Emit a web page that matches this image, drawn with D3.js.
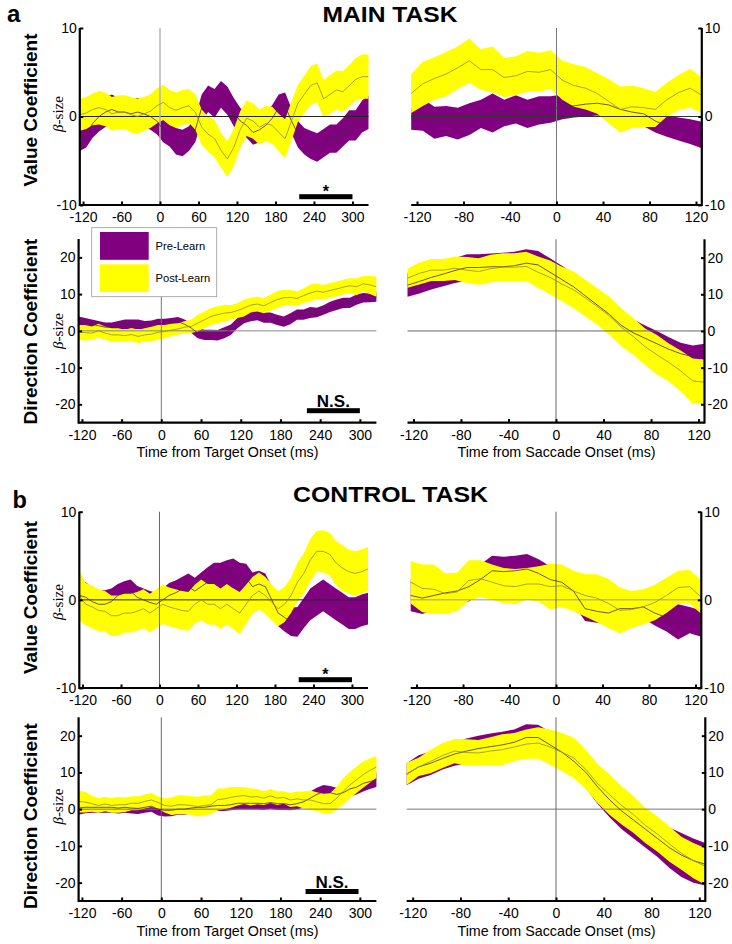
<!DOCTYPE html>
<html><head><meta charset="utf-8">
<script src="https://cdn.jsdelivr.net/npm/d3@7"></script>
<style>
body{margin:0;background:#fff}
svg{display:block}
text{font-family:"Liberation Sans",Arial,Helvetica,sans-serif;fill:#000}
</style>
</head><body>
<svg id="c" width="732" height="944"></svg>
<script>
// ---------------- DATA ----------------
const timesTarget = [-125,-115,-105,-95,-85,-75,-65,-55,-45,-35,-25,-15,-5,5,15,25,35,45,55,65,75,85,95,105,115,125,135,145,155,165,175,185,195,205,215,225,235,245,255,265,275,285,295,305,315,325];
const timesSaccade = [-125,-115,-105,-95,-85,-75,-65,-55,-45,-35,-25,-15,-5,5,15,25,35,45,55,65,75,85,95,105,115,125];
const xTicksTarget = [-120,-60,0,60,120,180,240,300];
const xTicksSaccade = [-120,-80,-40,0,40,80,120];
const yTicksValue = [10,0,-10];
const yTicksDirection = [20,10,0,-10,-20];
const seriesNames = ["Pre-Learn","Post-Learn"];
const taskTitles = ["MAIN TASK","CONTROL TASK"];
const sectionLetters = ["a","b"];
const rowTitles = ["Value Coefficient","Direction Coefficient"];
const xTitles = ["Time from Target Onset (ms)","Time from Saccade Onset (ms)"];
const sigStarts = [217,220,217,218];
const sigEnds = [300,300,300,298];
const sigLabels = ["*","N.S.","*","N.S."];

// Main task, value coefficient, target aligned
const mainValTgtPreMean = [-2.5,-2.0,-0.8,0.0,0.5,0.8,0.5,0.5,0.3,0.5,0.3,0.0,-0.5,-1.5,-2.0,-2.8,-3.0,-2.5,-1.5,1.0,2.0,1.5,2.5,1.8,0.5,-0.5,-1.0,-1.8,-1.5,-1.0,-0.2,1.0,1.2,-0.5,-2.0,-2.8,-3.2,-3.5,-3.0,-2.5,-2.5,-1.8,-1.0,-1.0,0.0,0.5];
const mainValTgtPreHw = [1.4,1.5,1.6,1.7,1.7,1.7,1.6,1.6,1.6,1.6,1.5,1.5,1.5,1.4,1.4,1.5,1.5,1.4,1.4,1.5,1.5,1.6,1.5,1.6,1.6,1.5,1.4,1.4,1.4,1.4,1.5,1.5,1.5,1.4,1.5,1.5,1.6,1.6,1.6,1.6,1.6,1.6,1.7,1.7,1.8,1.9];
const mainValTgtPostMean = [0.2,0.4,0.8,1.0,0.8,0.3,0.5,0.5,0.2,0.0,0.3,0.6,1.2,1.6,1.0,0.7,1.0,1.2,0.5,-1.2,-2.0,-2.5,-3.8,-4.8,-3.5,-1.5,-0.2,-0.5,-1.2,-0.8,-1.0,-1.8,-2.5,-0.5,1.5,2.5,3.5,3.8,2.0,2.5,3.0,2.8,3.5,4.2,4.5,4.5];
const mainValTgtPostHw = [1.8,1.8,1.8,1.9,1.9,1.9,1.9,1.9,2.0,2.0,1.9,1.9,2.0,2.0,2.0,2.0,2.0,1.9,2.0,2.0,2.0,2.1,2.0,2.0,2.1,2.1,2.0,2.0,2.0,2.0,2.1,2.1,2.2,2.2,2.1,2.1,2.2,2.2,2.1,2.2,2.2,2.3,2.3,2.4,2.5,2.5];

// Main task, value coefficient, saccade aligned
const mainValSacPreMean = [-0.3,0.2,-0.7,-0.5,-0.8,-0.3,0.3,0.4,0.4,0.8,0.3,0.7,0.8,1.1,1.2,1.4,1.5,1.3,0.8,0.5,0.3,-0.5,-1.1,-1.4,-1.7,-2.1];
const mainValSacPreHw = [1.2,1.8,1.8,1.7,1.8,1.8,1.6,2.2,1.5,1.6,1.6,1.6,1.5,1.4,1.3,1.4,1.4,1.4,1.4,1.4,1.4,1.3,1.2,1.3,1.4,1.5];
const mainValSacPostMean = [2.6,3.7,4.3,4.8,5.5,6.3,5.3,5.3,4.4,4.6,5.1,5.0,5.3,4.1,3.5,3.2,2.6,1.7,0.8,1.1,1.0,0.8,1.9,2.7,3.2,2.4];
const mainValSacPostHw = [2.2,2.5,2.4,2.5,2.4,2.5,2.3,2.6,2.2,2.2,2.3,2.2,2.2,2.2,2.4,2.4,2.3,2.5,2.6,2.4,2.2,2.0,1.9,2.0,2.2,2.0];

// Main task, direction coefficient, target aligned
const mainDirTgtPreMean = [2.4,2.1,1.8,1.4,1.0,1.0,1.4,1.8,1.8,1.8,1.5,1.5,2.0,2.0,2.2,2.5,1.8,0.8,-0.6,-1.1,-1.1,-1.2,-0.5,0.3,2.1,3.5,4.0,4.4,3.6,3.6,3.0,2.5,3.3,4.4,4.4,5.0,5.0,5.7,6.5,7.1,7.6,7.6,8.5,9.0,9.0,9.2];
const mainDirTgtPreHw = [1.5,1.4,1.3,1.3,1.3,1.3,1.3,1.3,1.3,1.3,1.2,1.3,1.3,1.3,1.3,1.3,1.3,1.3,1.4,1.4,1.4,1.4,1.5,1.4,1.4,1.4,1.4,1.5,1.4,1.4,1.4,1.4,1.5,1.4,1.4,1.5,1.3,1.3,1.4,1.4,1.4,1.4,1.4,1.3,1.2,1.3];
const mainDirTgtPostMean = [-0.4,-0.5,-0.6,0.0,-0.6,-1.1,-1.1,-1.3,-1.0,-1.5,-1.1,-0.9,-0.4,-0.2,0.2,0.5,1.0,1.2,2.1,3.0,3.9,4.4,4.8,5.0,5.5,6.2,7.0,7.3,6.8,7.7,8.5,9.0,9.1,8.8,9.6,10.3,10.8,10.5,11.0,11.4,11.9,12.3,12.0,12.8,12.5,12.0];
const mainDirTgtPostHw = [2.0,2.1,1.8,1.9,1.8,1.8,1.8,1.6,1.8,1.8,1.8,2.0,2.0,1.8,1.7,1.6,1.6,1.8,2.3,2.3,2.3,2.3,2.3,2.0,2.0,2.3,2.0,2.0,2.0,2.2,2.3,2.2,2.0,2.0,2.0,2.3,2.1,2.0,2.0,2.0,2.0,2.0,2.3,2.1,2.5,2.7];

// Main task, direction coefficient, saccade aligned
const mainDirSacPreMean = [12.5,13.5,14.6,15.5,16.5,17.3,17.3,17.5,17.5,17.8,18.5,18.0,16.0,14.0,12.0,9.5,7.0,4.5,1.5,-0.5,-2.0,-3.5,-5.0,-6.2,-7.0,-6.5];
const mainDirSacPreHw = [3.2,3.3,3.3,3.3,3.4,3.6,3.6,3.6,3.8,3.8,3.8,3.8,3.8,3.8,3.6,3.6,3.6,3.6,3.6,3.6,3.5,3.5,3.3,3.0,3.0,3.0];
const mainDirSacPostMean = [14.4,15.7,16.6,16.6,17.1,16.6,16.2,17.0,17.4,17.4,17.6,16.0,14.6,12.8,11.2,8.9,6.6,4.1,1.0,-1.5,-4.3,-6.5,-8.6,-10.9,-13.6,-14.0];
const mainDirSacPostHw = [2.6,3.0,3.0,3.0,3.2,3.6,3.6,3.8,3.8,3.8,4.0,4.3,4.6,4.7,5.0,5.0,5.0,5.2,5.2,5.0,5.0,5.4,5.2,5.6,6.1,6.2];

// Control task, value coefficient, target aligned
const ctrlValTgtPreMean = [0.5,0.3,-0.2,-0.5,-0.5,-0.2,0.5,0.8,1.0,0.3,0.0,-0.3,-0.5,0.0,0.5,0.8,1.2,1.5,1.0,1.5,2.0,2.5,2.5,2.8,3.0,2.5,2.5,1.5,1.8,1.5,0.0,-1.5,-2.0,-2.5,-2.5,-1.5,-0.5,0.0,0.5,0.0,-0.5,-1.0,-1.5,-1.5,-1.2,-1.0];
const ctrlValTgtPreHw = [1.8,1.7,1.6,1.6,1.6,1.5,1.3,1.3,1.3,1.3,1.3,1.3,1.3,1.3,1.4,1.4,1.4,1.5,1.5,1.6,1.7,1.7,1.7,1.7,1.7,1.7,1.6,1.6,1.5,1.5,1.5,1.5,1.6,1.6,1.7,1.7,1.8,1.8,1.8,1.8,1.8,1.8,1.8,1.8,1.8,1.8];
const ctrlValTgtPostMean = [0.5,-0.5,-0.8,-1.2,-1.3,-1.8,-1.8,-1.5,-1.5,-1.3,-1.0,-1.5,-1.0,-0.5,-0.8,-1.0,-1.2,-1.3,-0.5,0.0,-0.5,-0.5,-1.0,-0.5,-1.0,-1.5,-0.5,0.5,1.0,0.5,-0.3,-1.0,-0.5,0.5,2.0,3.0,4.5,5.5,5.5,5.2,4.2,3.6,3.2,3.0,3.2,3.5];
const ctrlValTgtPostHw = [2.8,2.4,2.4,2.4,2.3,2.3,2.3,2.2,2.2,2.2,2.2,2.2,2.2,2.2,2.2,2.2,2.2,2.2,2.2,2.3,2.3,2.3,2.3,2.3,2.3,2.4,2.2,2.1,2.1,2.1,2.0,2.0,2.0,2.0,2.2,2.3,2.4,2.3,2.4,2.4,2.5,2.6,2.5,2.5,2.5,2.5];

// Control task, value coefficient, saccade aligned
const ctrlValSacPreMean = [0.5,0.2,0.5,0.8,1.0,1.5,2.3,3.3,3.2,3.3,3.5,3.0,2.3,2.0,1.0,-1.0,-1.3,-1.5,-1.0,-1.0,-0.8,-1.5,-2.0,-2.5,-2.3,-2.7];
const ctrlValSacPreHw = [1.8,1.8,1.7,1.7,1.7,1.7,1.7,1.7,1.7,1.7,1.7,1.6,1.5,1.5,1.5,1.4,1.3,1.3,1.3,1.3,1.3,1.4,1.6,2.0,1.5,1.5];
const ctrlValSacPostMean = [2.0,1.3,1.2,0.7,0.9,2.2,2.4,2.0,1.6,1.5,1.8,1.8,1.5,1.6,1.0,0.5,0.2,-0.4,-1.2,-1.1,-0.8,-0.3,0.5,1.4,1.5,0.3];
const ctrlValSacPostHw = [2.4,2.7,2.8,2.3,2.2,2.3,2.1,2.0,2.0,2.0,1.8,2.0,2.6,2.4,2.3,2.4,2.7,2.8,2.6,2.1,2.0,2.0,2.0,1.9,1.9,1.9];

// Control task, direction coefficient, target aligned
const ctrlDirTgtPreMean = [0.3,0.5,0.5,0.5,0.5,0.5,0.3,0.5,0.3,0.2,0.5,0.8,0.0,-0.3,-0.3,0.0,0.0,0.3,0.5,0.5,0.8,1.0,1.0,1.2,1.6,1.6,1.6,1.6,1.5,1.8,1.5,1.5,1.2,1.5,2.0,3.0,4.0,4.8,4.5,4.0,4.5,5.5,6.0,7.0,7.5,8.0];
const ctrlDirTgtPreHw = [1.8,1.6,1.5,1.5,1.5,1.5,1.5,1.5,1.5,1.5,1.5,1.5,1.7,1.7,1.6,1.5,1.5,1.5,1.5,1.5,1.5,1.5,1.5,1.5,1.7,1.7,1.7,1.7,1.7,1.7,1.7,1.7,1.5,1.5,1.6,1.8,1.8,1.8,1.8,1.8,1.8,2.0,2.0,2.2,2.0,2.0];
const ctrlDirTgtPostMean = [2.1,1.9,1.5,1.0,1.4,1.0,1.2,1.2,1.6,1.6,2.1,2.5,1.8,1.0,0.8,1.2,1.2,1.0,0.7,1.0,1.2,2.6,2.8,3.2,3.5,3.7,3.3,3.4,3.0,3.6,3.0,3.2,2.5,2.8,2.5,2.5,2.0,1.5,1.5,3.0,4.9,6.6,8.0,9.4,10.5,11.5];
const ctrlDirTgtPostHw = [3.0,2.8,2.2,2.0,2.0,2.0,2.2,2.0,1.9,1.9,1.9,1.9,1.7,1.9,2.4,2.6,2.6,2.5,2.7,2.7,2.6,3.0,2.8,2.8,2.5,2.3,2.3,2.1,1.9,1.9,1.9,1.7,1.9,2.0,2.3,2.6,2.6,2.7,2.8,3.1,3.6,3.6,3.6,3.6,3.3,3.0];

// Control task, direction coefficient, saccade aligned
const ctrlDirSacPreMean = [9.5,11.5,12.5,13.8,15.0,15.8,16.5,17.0,17.5,18.2,19.5,19.5,17.5,15.5,13.0,10.0,6.0,2.5,-0.5,-3.0,-5.5,-8.0,-10.5,-12.5,-14.0,-15.0];
const ctrlDirSacPreHw = [3.0,3.2,3.2,3.0,3.2,3.4,3.5,3.6,3.6,3.5,3.6,3.5,3.6,3.8,4.0,4.4,4.6,4.8,5.0,5.0,5.0,5.0,5.5,6.0,6.0,5.8];
const ctrlDirSacPostMean = [9.6,11.5,13.0,14.6,15.8,15.4,15.3,15.8,16.2,16.9,17.7,18.0,16.9,15.5,13.9,10.8,6.9,3.9,1.0,-1.5,-4.5,-6.8,-9.5,-12.0,-14.0,-15.6];
const ctrlDirSacPostHw = [3.0,2.5,3.2,3.4,3.3,3.6,3.5,3.8,4.2,3.8,4.0,4.3,4.8,5.2,5.5,5.4,5.3,5.5,5.2,5.0,4.8,4.8,4.8,4.5,4.8,5.0];

// ---------------- LAYOUT ----------------
const panels = [
  {times:timesTarget, xTicks:xTicksTarget, yTicks:yTicksValue, yd:[-10,10], xd:[-125,325], xr:[79.8,368.5], yr:[205,28], side:"left",
   pre:[mainValTgtPreMean,mainValTgtPreHw], post:[mainValTgtPostMean,mainValTgtPostHw], zc:"#222", vc:"#b5b5b5", sig:0},
  {times:timesSaccade, xTicks:xTicksSaccade, yTicks:yTicksValue, yd:[-10,10], xd:[-125,125], xr:[411.2,701.8], yr:[205,28], side:"right",
   pre:[mainValSacPreMean,mainValSacPreHw], post:[mainValSacPostMean,mainValSacPostHw], zc:"#333", vc:"#777"},
  {times:timesTarget, xTicks:xTicksTarget, yTicks:yTicksDirection, yd:[-25,25], xd:[-125,325], xr:[78.6,376.4], yr:[422.7,239], side:"left",
   pre:[mainDirTgtPreMean,mainDirTgtPreHw], post:[mainDirTgtPostMean,mainDirTgtPostHw], zc:"#888", vc:"#777", sig:1, xt:0, xty:457},
  {times:timesSaccade, xTicks:xTicksSaccade, yTicks:yTicksDirection, yd:[-25,25], xd:[-125,125], xr:[407.5,704.5], yr:[422.6,239.3], side:"right",
   pre:[mainDirSacPreMean,mainDirSacPreHw], post:[mainDirSacPostMean,mainDirSacPostHw], zc:"#666", vc:"#666", xt:1, xty:457},
  {times:timesTarget, xTicks:xTicksTarget, yTicks:yTicksValue, yd:[-10,10], xd:[-125,325], xr:[79.3,368], yr:[688,511.7], side:"left",
   pre:[ctrlValTgtPreMean,ctrlValTgtPreHw], post:[ctrlValTgtPostMean,ctrlValTgtPostHw], zc:"#222", vc:"#666", sig:2},
  {times:timesSaccade, xTicks:xTicksSaccade, yTicks:yTicksValue, yd:[-10,10], xd:[-125,125], xr:[410.7,701.3], yr:[688,511.7], side:"right",
   pre:[ctrlValSacPreMean,ctrlValSacPreHw], post:[ctrlValSacPostMean,ctrlValSacPostHw], zc:"#999", vc:"#666"},
  {times:timesTarget, xTicks:xTicksTarget, yTicks:yTicksDirection, yd:[-25,25], xd:[-125,325], xr:[78.6,376.4], yr:[901,717.3], side:"left",
   pre:[ctrlDirTgtPreMean,ctrlDirTgtPreHw], post:[ctrlDirTgtPostMean,ctrlDirTgtPostHw], zc:"#777", vc:"#666", sig:3, xt:0, xty:936},
  {times:timesSaccade, xTicks:xTicksSaccade, yTicks:yTicksDirection, yd:[-25,25], xd:[-125,125], xr:[406.7,705.3], yr:[901,717.3], side:"right",
   pre:[ctrlDirSacPreMean,ctrlDirSacPreHw], post:[ctrlDirSacPostMean,ctrlDirSacPostHw], zc:"#777", vc:"#666", xt:1, xty:936}
];
const PURPLE = "#800080", YELLOW = "#ffff00";

const svg = d3.select("#c");

panels.forEach((p, pi) => {
  const x = d3.scaleLinear().domain(p.xd).range(p.xr);
  const y = d3.scaleLinear().domain(p.yd).range(p.yr);
  const g = svg.append("g");
  const band = (m, hw) => d3.area()
      .x((d, i) => x(p.times[i]))
      .y0((d, i) => y(m[i] - hw[i]))
      .y1((d, i) => y(m[i] + hw[i]));
  const mline = d3.line().x((d, i) => x(p.times[i])).y(d => y(d));

  g.append("path").datum(p.pre[0]).attr("d", band(p.pre[0], p.pre[1])).attr("fill", PURPLE);
  g.append("path").datum(p.post[0]).attr("d", band(p.post[0], p.post[1])).attr("fill", YELLOW);

  // reference lines
  g.append("line").attr("x1", x(p.xd[0])).attr("x2", x(p.xd[1])).attr("y1", y(0)).attr("y2", y(0))
    .attr("stroke", p.zc).attr("stroke-width", 1);
  g.append("line").attr("x1", x(0)).attr("x2", x(0)).attr("y1", y(p.yd[0])).attr("y2", y(p.yd[1]))
    .attr("stroke", p.vc).attr("stroke-width", pi === 0 ? 1.5 : 1);

  // mean lines
  g.append("path").datum(p.pre[0]).attr("d", mline).attr("fill", "none").attr("stroke", "#4a2a4a").attr("stroke-width", 0.8);
  g.append("path").datum(p.post[0]).attr("d", mline).attr("fill", "none").attr("stroke", "#8e8e3a").attr("stroke-width", 0.8);

  // x axis
  const yb = y(p.yd[0]);
  const xa = d3.axisBottom(x).tickValues(p.xTicks).tickSize(-3.5).tickPadding(7).tickFormat(d => String(d));
  const gx = g.append("g").attr("transform", `translate(0,${yb})`).call(xa);
  gx.select(".domain").remove();
  gx.selectAll(".tick line").attr("stroke", "#000").attr("stroke-width", 2);
  gx.selectAll(".tick text").attr("font-size", 14).attr("font-family", "Liberation Sans, Arial, sans-serif");
  g.append("line").attr("x1", p.xr[0]).attr("x2", p.xr[1]).attr("y1", yb).attr("y2", yb)
    .attr("stroke", "#000").attr("stroke-width", 2.2);

  // y axis
  const axX = p.side === "left" ? p.xr[0] : p.xr[1];
  const ya = (p.side === "left" ? d3.axisLeft(y) : d3.axisRight(y))
    .tickValues(p.yTicks).tickSize(-3.5).tickPadding(3).tickFormat(d => String(d));
  const gy = g.append("g").attr("transform", `translate(${axX},0)`).call(ya);
  gy.select(".domain").remove();
  gy.selectAll(".tick line").attr("stroke", "#000").attr("stroke-width", 2);
  gy.selectAll(".tick text").attr("font-size", 14).attr("font-family", "Liberation Sans, Arial, sans-serif");
  g.append("line").attr("x1", axX).attr("x2", axX).attr("y1", y(p.yd[0]) + 1).attr("y2", y(p.yd[1]))
    .attr("stroke", "#000").attr("stroke-width", 2.2);

  // significance bar
  if (p.sig !== undefined) {
    const s = p.sig;
    const isStar = sigLabels[s] === "*";
    const by = yb - (s === 1 ? 12 : (s === 3 ? 9.5 : 8.3));
    g.append("rect").attr("x", x(sigStarts[s])).attr("y", by - 2.5)
      .attr("width", x(sigEnds[s]) - x(sigStarts[s])).attr("height", 5).attr("fill", "#000");
    g.append("text").attr("x", (x(sigStarts[s]) + x(sigEnds[s])) / 2)
      .attr("y", isStar ? by + 0.5 : by - 4)
      .attr("text-anchor", "middle").attr("font-weight", "bold")
      .attr("font-size", isStar ? 16 : 17).text(sigLabels[s]);
  }

  // x title
  if (p.xt !== undefined) {
    g.append("text").attr("x", (x(p.xd[0]) + x(p.xd[1])) / 2 + (p.xt === 0 ? 0 : 0.5))
      .attr("y", p.xty).attr("text-anchor", "middle").attr("font-size", 14.3).text(xTitles[p.xt]);
  }

  // row titles on left panels
  if (p.side === "left") {
    const isVal = p.yd[1] === 10;
    const cy = [110, 331.5, 597.5, 816][pi / 2];
    svg.append("text").attr("transform", `translate(37,${cy}) rotate(-90)`)
      .attr("text-anchor", "middle").attr("font-weight", "bold").attr("font-size", 19)
      .text(isVal ? rowTitles[0] : rowTitles[1]);
    const by2 = [114, 331, 602, 806.5][pi / 2];
    const bt = svg.append("text").attr("transform", `translate(63,${by2}) rotate(-90)`)
      .attr("text-anchor", "middle").attr("font-size", 15)
      .style("font-family", "'Liberation Serif','Times New Roman',serif");
    bt.append("tspan").attr("font-style", "italic").text("β");
    bt.append("tspan").text("-size");
  }
});

// legend
const lg = svg.append("g");
lg.append("rect").attr("x", 91.7).attr("y", 227.7).attr("width", 125).attr("height", 69)
  .attr("fill", "#fff").attr("stroke", "#999").attr("stroke-width", 0.8);
[PURPLE, YELLOW].forEach((c, i) => {
  lg.append("rect").attr("x", 100).attr("y", i === 0 ? 232 : 264.3).attr("width", 48.7).attr("height", 27.8).attr("fill", c);
  lg.append("text").attr("x", 155.5).attr("y", i === 0 ? 250 : 282).attr("font-size", 11.2).text(seriesNames[i]);
});

// titles and section letters
svg.append("text").attr("x", 390).attr("y", 22).attr("text-anchor", "middle").attr("font-weight", "bold")
  .attr("font-size", 22).attr("textLength", 135).attr("lengthAdjust", "spacingAndGlyphs").text(taskTitles[0]);
svg.append("text").attr("x", 390.5).attr("y", 502.3).attr("text-anchor", "middle").attr("font-weight", "bold")
  .attr("font-size", 22).attr("textLength", 195).attr("lengthAdjust", "spacingAndGlyphs").text(taskTitles[1]);
svg.append("text").attr("x", 7).attr("y", 22).attr("font-weight", "bold").attr("font-size", 24).text(sectionLetters[0]);
svg.append("text").attr("x", 12.5).attr("y", 508.3).attr("font-weight", "bold").attr("font-size", 23.5).text(sectionLetters[1]);
</script>
</body></html>
